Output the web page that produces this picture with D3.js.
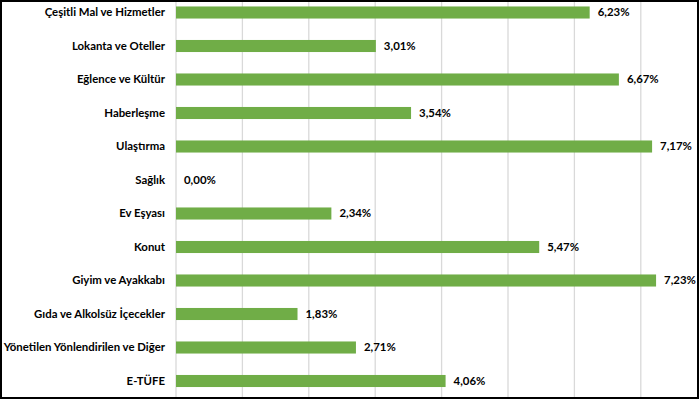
<!DOCTYPE html>
<html>
<head>
<meta charset="utf-8">
<script src="https://cdn.jsdelivr.net/npm/d3@7"></script>
<style>
  html, body { margin: 0; padding: 0; background: #fff; }
  svg { display: block; }
  .lbl { font-family: Lato, "Liberation Sans", sans-serif; font-weight: bold; font-size: 11.4px; fill: #000; }
</style>
</head>
<body>
<svg id="chart" width="700" height="400"></svg>
<script>
const categories = [
  "Çeşitli Mal ve Hizmetler",
  "Lokanta ve Oteller",
  "Eğlence ve Kültür",
  "Haberleşme",
  "Ulaştırma",
  "Sağlık",
  "Ev Eşyası",
  "Konut",
  "Giyim ve Ayakkabı",
  "Gıda ve Alkolsüz İçecekler",
  "Yönetilen Yönlendirilen ve Diğer",
  "E-TÜFE"
];
const values = [6.23, 3.01, 6.67, 3.54, 7.17, 0.00, 2.34, 5.47, 7.23, 1.83, 2.71, 4.06];
const xTicks = [0, 1, 2, 3, 4, 5, 6, 7, 8];

const data = categories.map((c, i) => ({ cat: c, val: values[i] }));
const svg = d3.select("#chart");

const x = d3.scaleLinear().domain([0, 8]).range([176, 707.2]);
const y = d3.scaleBand().domain(categories).range([-4.25, 397.75]).paddingInner(0.64).paddingOuter(0.32);

// gridlines
svg.append("g").selectAll("line").data(xTicks).join("line")
  .attr("x1", d => x(d)).attr("x2", d => x(d))
  .attr("y1", 0).attr("y2", 398)
  .attr("stroke", "#d9d9d9").attr("stroke-width", 1.3);

// bars
svg.append("g").selectAll("rect").data(data).join("rect")
  .attr("x", x(0))
  .attr("y", d => y(d.cat))
  .attr("width", d => x(d.val) - x(0))
  .attr("height", y.bandwidth())
  .attr("fill", "#70ad47");

// category labels
svg.append("g").selectAll("text").data(data).join("text")
  .attr("class", "lbl")
  .attr("x", 165)
  .attr("y", d => y(d.cat) + y.bandwidth() / 2)
  .attr("dy", "0.35em")
  .attr("text-anchor", "end")
  .text(d => d.cat);

// value labels
const fmt = v => v.toFixed(2).replace(".", ",") + "%";
svg.append("g").selectAll("text").data(data).join("text")
  .attr("class", "lbl")
  .attr("x", d => x(d.val) + 8)
  .attr("y", d => y(d.cat) + y.bandwidth() / 2)
  .attr("dy", "0.35em")
  .text(d => fmt(d.val));

// frame
svg.append("rect")
  .attr("x", 1).attr("y", 1).attr("width", 697).attr("height", 397)
  .attr("fill", "none").attr("stroke", "#000").attr("stroke-width", 2);
</script>
</body>
</html>
